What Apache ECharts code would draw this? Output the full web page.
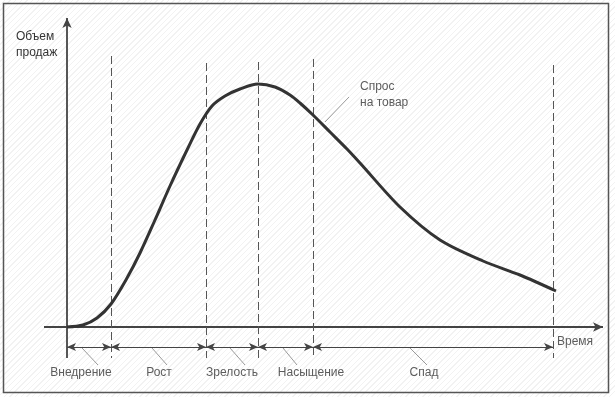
<!DOCTYPE html>
<html>
<head>
<meta charset="utf-8">
<script src="https://cdn.jsdelivr.net/npm/echarts@6/dist/echarts.min.js"></script>
<style>
  html, body { margin: 0; padding: 0; background: #fff; }
  #chart {
    width: 615px; height: 397px;
    background: repeating-linear-gradient(135deg, #ffffff 0px, #ffffff 3px, #f2f2f2 3px, #f2f2f2 4px);
  }
</style>
</head>
<body>
<div id="chart"></div>
<script>
// curve "Спрос на товар" (time -> sales volume)
const time   = [0, 16, 30, 44, 60, 73, 88, 103, 120, 133, 145, 158, 173, 191, 208, 223, 233, 246, 263, 280, 293, 333, 373, 416, 453, 489];
const demand = [0, 2, 9, 23, 49, 74, 107, 141, 177, 203, 221, 231, 238, 243, 240, 232, 224, 212, 195, 178, 164, 120, 87, 66, 52, 36];

// stages of the life cycle
const stageNames  = ['Внедрение', 'Рост', 'Зрелость', 'Насыщение', 'Спад'];
const stageBounds = [0, 44, 139, 191, 246, 486];
const dashTops    = [271, 264, 265, 268, 262];
const stageLabelX = [14, 92, 165, 244, 357];
const leaderX0    = [15, 85, 163, 216, 343];
const leaderX1    = [31, 100, 178, 230, 360];

const textColor = '#333';
const lineColor = '#444';

let chart = echarts.init(document.getElementById('chart'));

const dashLines = stageBounds.slice(1).map((x, i) => [{coord: [x, dashTops[i]]}, {coord: [x, -31]}]);
const spanArrows = stageNames.map((n, i) => [{coord: [stageBounds[i], -20]}, {coord: [stageBounds[i + 1], -20]}]);
const leaders = stageNames.map((n, i) => [{coord: [leaderX0[i], -21]}, {coord: [leaderX1[i], -38]}]);
leaders.push([{coord: [258, 205]}, {coord: [282, 230]}]);

const option = {
    animation: false,
    grid: {left: 44, top: 18, width: 561, height: 369},
    xAxis: {type: 'value', min: -23, max: 538, show: false},
    yAxis: {type: 'value', min: -60, max: 309, show: false},
    graphic: [{
        type: 'rect',
        shape: {x: 3.5, y: 3.5, width: 605, height: 389},
        style: {fill: 'none', stroke: '#555', lineWidth: 1.5}
    }, {
        type: 'text', left: 16, top: 29,
        style: {text: 'Объем\nпродаж', fill: textColor, font: '12px "Liberation Sans", Arial', lineHeight: 16}
    }],
    series: [{
        name: 'Спрос на товар',
        type: 'line',
        data: time.map((t, i) => [t, demand[i]]),
        smooth: 0.3,
        showSymbol: false,
        lineStyle: {color: '#333', width: 3},
        z: 5,
        silent: true
    }, {
        // axes
        type: 'line', data: [], silent: true,
        markLine: {
            silent: true, animation: false,
            symbol: ['none', 'arrow'], symbolSize: [7, 10],
            label: {show: false},
            lineStyle: {color: lineColor, width: 1.8, type: 'solid'},
            data: [
                [{coord: [-23, 0]}, {coord: [536, 0]}],
                [{coord: [0, -31]}, {coord: [0, 309]}]
            ]
        }
    }, {
        // stage borders
        type: 'line', data: [], silent: true,
        markLine: {
            silent: true, animation: false, symbol: 'none',
            label: {show: false},
            lineStyle: {color: '#555', width: 1, type: [8, 4]},
            data: dashLines
        }
    }, {
        // stage spans
        type: 'line', data: [], silent: true,
        markLine: {
            silent: true, animation: false,
            symbol: ['arrow', 'arrow'], symbolSize: [6, 9],
            label: {show: false},
            lineStyle: {color: lineColor, width: 1.2, type: 'solid'},
            data: spanArrows
        }
    }, {
        // label leaders
        type: 'line', data: [], silent: true,
        markLine: {
            silent: true, animation: false, symbol: 'none',
            label: {show: false},
            lineStyle: {color: '#999', width: 1, type: 'solid'},
            data: leaders
        }
    }, {
        // texts
        type: 'scatter', symbolSize: 0, silent: true,
        label: {
            show: true, position: 'inside', color: textColor,
            fontFamily: '"Liberation Sans", Arial', fontSize: 12, lineHeight: 16,
            formatter: p => p.data.name
        },
        data: stageNames.map((n, i) => ({name: n, value: [stageLabelX[i], -46]})).concat([
            {name: 'Время', value: [490, -15], label: {align: 'left'}},
            {name: 'Спрос\nна товар', value: [293, 232], label: {align: 'left'}}
        ])
    }]
};

chart.setOption(option);
</script>
</body>
</html>
